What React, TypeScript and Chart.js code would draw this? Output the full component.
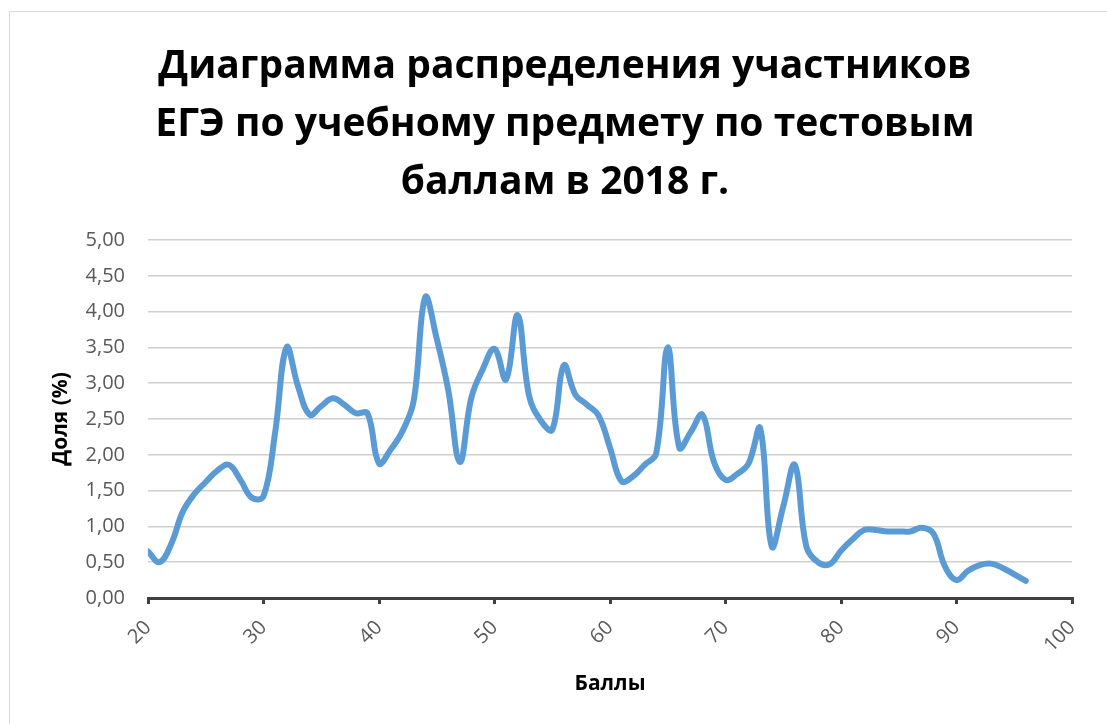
import React, { useEffect, useRef } from "react";
import { Chart, registerables } from "chart.js";

Chart.register(...registerables);

const titleLines = [
  "Диаграмма распределения участников",
  "ЕГЭ по учебному предмету по тестовым",
  "баллам в 2018 г.",
];
const xTitle = "Баллы";
const yTitle = "Доля (%)";

const scores = [
  20, 21, 22, 23, 24, 25, 26, 27, 28, 29,
  30, 31, 32, 33, 34, 35, 36, 37, 38, 39,
  40, 41, 42, 43, 44, 45, 46, 47, 48, 49,
  50, 51, 52, 53, 54, 55, 56, 57, 58, 59,
  60, 61, 62, 63, 64, 65, 66, 67, 68, 69,
  70, 71, 72, 73, 74, 75, 76, 77, 78, 79,
  80, 81, 82, 83, 84, 85, 86, 87, 88, 89,
  90, 91, 92, 93, 94, 95, 96,
];
const shares = [
  0.65, 0.5, 0.75, 1.2, 1.45, 1.62, 1.78, 1.86, 1.65, 1.4,
  1.42, 2.3, 3.5, 2.95, 2.56, 2.68, 2.79, 2.7, 2.58, 2.58,
  1.88, 2.07, 2.32, 2.75, 4.2, 3.62, 2.9, 1.9, 2.8, 3.2,
  3.48, 3.05, 3.95, 2.82, 2.48, 2.35, 3.25, 2.84, 2.7, 2.55,
  2.1, 1.63, 1.7, 1.86, 2.02, 3.5, 2.1, 2.32, 2.56, 1.9,
  1.65, 1.73, 1.88, 2.37, 0.72, 1.28, 1.86, 0.72, 0.5, 0.47,
  0.66, 0.82, 0.95, 0.95, 0.93, 0.93, 0.93, 0.98, 0.9, 0.44,
  0.25, 0.38, 0.46, 0.48, 0.42, 0.33, 0.24,
];

const X_MIN = 20;
const X_MAX = 100;
const X_STEP = 10;
const Y_MIN = 0;
const Y_MAX = 5;
const Y_STEP = 0.5;

const FONT = "'Open Sans', 'DejaVu Sans', sans-serif";

export default function App() {
  const ref = useRef<HTMLCanvasElement | null>(null);

  useEffect(() => {
    if (!ref.current) return;
    const points = scores.map((x, i) => ({ x, y: shares[i] }));
    const chart = new Chart(ref.current, {
      type: "line",
      data: {
        datasets: [
          {
            data: points,
            borderColor: "#5b9bd5",
            backgroundColor: "#5b9bd5",
            borderWidth: 6,
            pointRadius: 0,
            tension: 0.4,
            borderCapStyle: "round",
            borderJoinStyle: "round",
            fill: false,
          },
        ],
      },
      options: {
        responsive: false,
        animation: false,
        layout: { padding: { left: 48, right: 48, top: 0, bottom: 0 } },
        plugins: {
          legend: { display: false },
          tooltip: { enabled: false },
          title: {
            display: true,
            text: titleLines,
            color: "#000000",
            font: { family: FONT, size: 39, weight: "bold", lineHeight: 58 / 39 },
            padding: { top: 26, bottom: 28 },
          },
        },
        scales: {
          x: {
            type: "linear",
            min: X_MIN,
            max: X_MAX,
            afterFit: (s: any) => {
              s.height = 126;
            },
            ticks: {
              stepSize: X_STEP,
              maxRotation: 45,
              minRotation: 45,
              padding: 12,
              color: "#595959",
              font: { family: FONT, size: 20 },
            },
            grid: {
              display: true,
              drawOnChartArea: false,
              drawTicks: true,
              tickLength: 6,
              color: "#404040",
              lineWidth: 3,
            },
            border: { display: true, color: "#404040", width: 3 },
            title: {
              display: true,
              text: xTitle,
              color: "#000000",
              font: { family: FONT, size: 21, weight: "bold", lineHeight: 1.2 },
              padding: { top: 0, bottom: 27 },
            },
          },
          y: {
            type: "linear",
            min: Y_MIN,
            max: Y_MAX,
            afterFit: (s: any) => {
              s.width = 90;
            },
            ticks: {
              stepSize: Y_STEP,
              padding: 23,
              color: "#595959",
              font: { family: FONT, size: 20 },
              callback: (v: any) => Number(v).toFixed(2).replace(".", ","),
            },
            grid: {
              display: true,
              drawTicks: false,
              color: "#cfcfcf",
              lineWidth: 1.5,
            },
            border: { display: false },
            title: {
              display: true,
              text: yTitle,
              color: "#000000",
              font: { family: FONT, size: 21, weight: "bold", lineHeight: 1.2 },
              padding: { top: -9.6, bottom: 0 },
            },
          },
        },
      },
    });
    return () => chart.destroy();
  }, []);

  return (
    <div
      style={{
        position: "absolute",
        left: 9,
        top: 11,
        width: 1097,
        height: 712,
        overflow: "hidden",
        borderTop: "1px solid #d9d9d9",
        borderLeft: "1px solid #d9d9d9",
        background: "#ffffff",
      }}
    >
      <canvas ref={ref} width={1110} height={712} style={{ width: 1110, height: 712, display: "block" }} />
    </div>
  );
}
